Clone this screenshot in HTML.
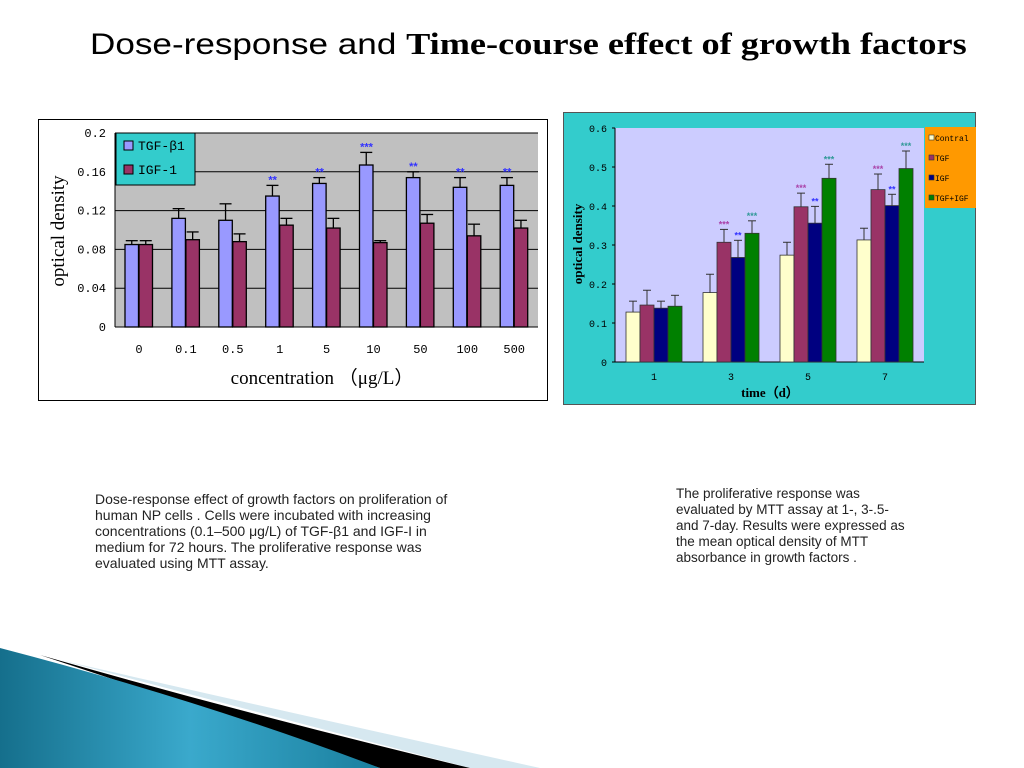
<!DOCTYPE html>
<html><head><meta charset="utf-8"><style>
body{margin:0;width:1024px;height:768px;background:#fff;position:relative;overflow:hidden;font-family:"Liberation Sans","Noto Sans CJK SC",sans-serif}
.t{position:absolute;color:#222;line-height:16px;white-space:nowrap}
</style></head><body>
<div style="position:absolute;left:90px;top:26px;font-size:30px;white-space:nowrap;color:#000;transform:scaleX(1.17);transform-origin:0 0">Dose-response and <b style="font-family:'Liberation Serif',serif;font-size:31px">Time-course effect of growth factors</b></div>
<svg width="1024" height="768" style="position:absolute;left:0;top:0">
<defs><linearGradient id="gb" x1="0" y1="0" x2="1" y2="0"><stop offset="0" stop-color="#156f8c"/><stop offset="0.5" stop-color="#3aa9cc"/><stop offset="1" stop-color="#1a7f9e"/></linearGradient></defs>
<path d="M60,660 Q300,715 540,768 L470,768 Z" fill="#d6e8f0"/>
<path d="M40,655 Q250,715 470,768 L380,768 Z" fill="#000"/>
<path d="M0,648 Q200,700 380,768 L0,768 Z" fill="url(#gb)"/>
</svg>
<svg id="c1" width="1024" height="768" style="position:absolute;left:0;top:0"></svg>
<svg id="c2" width="1024" height="768" style="position:absolute;left:0;top:0"></svg>
<div class="t" style="left:95px;top:491px;font-size:14px">Dose-response effect of growth factors on proliferation of<br>human NP cells . Cells were incubated with increasing<br>concentrations (0.1–500 μg/L) of TGF-β1 and IGF-I in<br>medium for 72 hours. The proliferative response was<br>evaluated using MTT assay.</div>
<div class="t" style="left:676px;top:486px;font-size:13.5px">The proliferative response was<br>evaluated by MTT assay at 1-, 3-.5-<br>and 7-day. Results were expressed as<br>the mean optical density of MTT<br>absorbance in growth factors .</div>
<script>
const cats1=["0","0.1","0.5","1","5","10","50","100","500"];
const tgf1=[0.085,0.112,0.110,0.135,0.148,0.167,0.154,0.144,0.146];
const tgf1Err=[0.089,0.122,0.127,0.146,0.154,0.180,0.160,0.154,0.154];
const igf1=[0.085,0.090,0.088,0.105,0.102,0.087,0.107,0.094,0.102];
const igf1Err=[0.089,0.098,0.096,0.112,0.112,0.089,0.116,0.106,0.110];
const stars1=["","","","**","**","***","**","**","**"];
const ticks1=["0","0.04","0.08","0.12","0.16","0.2"];
const tickVals1=[0,0.04,0.08,0.12,0.16,0.2];

const cats2=["1","3","5","7"];
const ctrl2=[0.128,0.178,0.274,0.313];
const ctrl2Err=[0.156,0.225,0.307,0.343];
const tgf2=[0.146,0.307,0.398,0.442];
const tgf2Err=[0.184,0.340,0.433,0.482];
const igf2=[0.138,0.268,0.356,0.401];
const igf2Err=[0.156,0.312,0.399,0.430];
const both2=[0.143,0.330,0.471,0.496];
const both2Err=[0.171,0.362,0.507,0.541];
const tgf2Stars=["","***","***","***"];
const igf2Stars=["","**","**","**"];
const both2Stars=["","***","***","***"];
const ticks2=["0","0.1","0.2","0.3","0.4","0.5","0.6"];
const tickVals2=[0,0.1,0.2,0.3,0.4,0.5,0.6];

const NS="http://www.w3.org/2000/svg";
function mk(p,tag,a,txt){const e=document.createElementNS(NS,tag);for(const k in a)e.setAttribute(k,a[k]);if(txt!==undefined)e.textContent=txt;p.appendChild(e);return e;}

// Chart 1
(function(){
const s=document.getElementById('c1');
const L=115,R=538,T=133,B=327;
const y=v=>B-(v/0.2)*(B-T);
const x=i=>139+i*46.9;
let e=mk(s,'rect',{x:38.5,y:119.5,width:509,height:281,fill:'#fff',stroke:'#000'});

e=mk(s,'rect',{x:L,y:T,width:R-L,height:B-T,fill:'#c0c0c0'});

tickVals1.forEach((v,i)=>{
 if(v>0){e=mk(s,'line',{x1:L,x2:R,y1:y(v),y2:y(v),stroke:'#000','stroke-width':1});}
 e=mk(s,'text',{x:106,y:y(v)+4,'text-anchor':'end','font-size':12,'font-family':'Liberation Mono,monospace'},ticks1[i]);
 
});
mk(s,'line',{x1:L,x2:L,y1:T,y2:B,stroke:'#000'});
mk(s,'line',{x1:L,x2:R,y1:B,y2:B,stroke:'#000'});
cats1.forEach((c,i)=>{
 const cx=x(i);
 const bars=[[tgf1[i],tgf1Err[i],'#9999ff',cx-14,'bar-tgf'],[igf1[i],igf1Err[i],'#993366',cx,'bar-igf']];
 bars.forEach(b=>{
  const r=mk(s,'rect',{x:b[3],y:y(b[0]),width:13.5,height:B-y(b[0]),fill:b[2],stroke:'#000','stroke-width':1.3});
  
  const m=b[3]+6.75;
  mk(s,'line',{x1:m,x2:m,y1:y(b[1]),y2:y(b[0]),stroke:'#000','stroke-width':1.3});
  mk(s,'line',{x1:m-6,x2:m+6,y1:y(b[1]),y2:y(b[1]),stroke:'#000','stroke-width':1.3});
 });
 if(stars1[i]){e=mk(s,'text',{x:cx-7,y:y(tgf1Err[i])-2,'text-anchor':'middle','font-size':11,fill:'#3333ff','font-weight':'bold'},stars1[i]);}
 e=mk(s,'text',{x:cx,y:353,'text-anchor':'middle','font-size':12,'font-family':'Liberation Mono,monospace'},c);
 
});
e=mk(s,'rect',{x:116,y:133,width:79,height:52,fill:'#33cccc',stroke:'#000'});

mk(s,'rect',{x:124,y:141,width:9,height:9,fill:'#9999ff',stroke:'#000'});
e=mk(s,'text',{x:138,y:150,'font-size':13,'font-family':'Liberation Mono,monospace'},'TGF-β1');
mk(s,'rect',{x:124,y:165,width:9,height:9,fill:'#993366',stroke:'#000'});
e=mk(s,'text',{x:138,y:174,'font-size':13,'font-family':'Liberation Mono,monospace'},'IGF-1');
e=mk(s,'text',{x:322,y:384,'text-anchor':'middle','font-size':19,'font-family':'Liberation Serif,serif'},'concentration （μg/L）');
e=mk(s,'text',{x:0,y:0,'text-anchor':'middle','font-size':19,'font-family':'Liberation Serif,serif',transform:'translate(64,231) rotate(-90)'},'optical density');
})();

// Chart 2
(function(){
const s=document.getElementById('c2');
const L=615,R=924,T=128,B=362;
const y=v=>B-(v/0.6)*(B-T);
const x=i=>654+i*77;
let e=mk(s,'rect',{x:563.5,y:112.5,width:412,height:292,fill:'#33cccc',stroke:'#555'});

e=mk(s,'rect',{x:L,y:T,width:R-L,height:B-T,fill:'#ccccff'});

tickVals2.forEach((v,i)=>{
 e=mk(s,'text',{x:607,y:y(v)+4,'text-anchor':'end','font-size':10,'font-family':'Liberation Mono,monospace'},ticks2[i]);
 
 mk(s,'line',{x1:L-3,x2:L,y1:y(v),y2:y(v),stroke:'#000'});
});
mk(s,'line',{x1:L,x2:L,y1:T,y2:B,stroke:'#000'});
mk(s,'line',{x1:L,x2:R,y1:B,y2:B,stroke:'#000'});
const series=[[ctrl2,ctrl2Err,'#ffffcc','bar-control',null,''],[tgf2,tgf2Err,'#993366','bar-tgf',tgf2Stars,'#aa44aa'],[igf2,igf2Err,'#000080','bar-igf',igf2Stars,'#3333ff'],[both2,both2Err,'#008000','bar-tgf-igf',both2Stars,'#339999']];
cats2.forEach((c,i)=>{
 series.forEach((sr,j)=>{
  const bx=x(i)-28+j*14;
  const r=mk(s,'rect',{x:bx,y:y(sr[0][i]),width:14,height:B-y(sr[0][i]),fill:sr[2],stroke:'#333','stroke-width':0.8});
  
  const m=bx+7;
  mk(s,'line',{x1:m,x2:m,y1:y(sr[1][i]),y2:y(sr[0][i]),stroke:'#333'});
  mk(s,'line',{x1:m-4,x2:m+4,y1:y(sr[1][i]),y2:y(sr[1][i]),stroke:'#333'});
  if(sr[4]&&sr[4][i]){e=mk(s,'text',{x:m,y:y(sr[1][i])-2,'text-anchor':'middle','font-size':9,'font-weight':'bold',fill:sr[5]},sr[4][i]);}
 });
 e=mk(s,'text',{x:x(i),y:380,'text-anchor':'middle','font-size':10,'font-family':'Liberation Mono,monospace'},c);
 
});
e=mk(s,'rect',{x:925,y:127,width:51,height:81,fill:'#ff9900'});

const lab=['Contral','TGF','IGF','TGF+IGF'];
series.forEach((sr,j)=>{
 mk(s,'rect',{x:929,y:135+j*20,width:5,height:5,fill:sr[2],stroke:'#333','stroke-width':0.6});
 e=mk(s,'text',{x:935,y:141+j*20,'font-size':8,'font-family':'Liberation Mono,monospace'},lab[j]);
 
});
e=mk(s,'text',{x:770,y:397,'text-anchor':'middle','font-size':13,'font-weight':'bold','font-family':'Liberation Serif,serif'},'time（d）');
e=mk(s,'text',{x:0,y:0,'text-anchor':'middle','font-size':13,'font-weight':'bold','font-family':'Liberation Serif,serif',transform:'translate(582,244) rotate(-90)'},'optical density');
})();
</script>
</body></html>
